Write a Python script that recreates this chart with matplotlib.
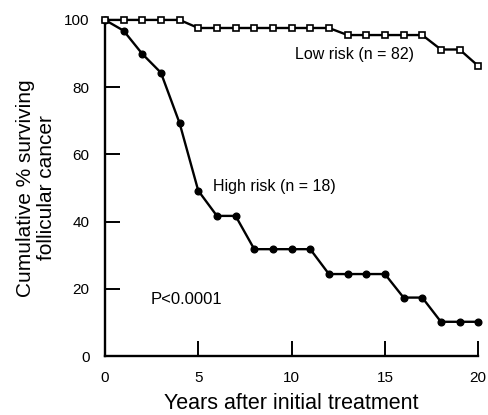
import matplotlib
matplotlib.use("Agg")
import matplotlib.pyplot as plt

plt.rcParams['font.family'] = ['Liberation Sans', 'DejaVu Sans']

# Survival curves (years after treatment vs cumulative % surviving)
years = list(range(0, 21))
low_risk = [100, 100, 100, 100, 100,
            97.6, 97.6, 97.6, 97.6, 97.6, 97.6, 97.6, 97.6,
            95.5, 95.5, 95.5, 95.5, 95.5,
            91.2, 91.2, 86.3]
high_risk = [100, 96.8, 89.9, 84.3, 69.3, 49.2, 41.7, 41.7,
             31.8, 31.8, 31.8, 31.8, 24.4, 24.4, 24.4, 24.4,
             17.4, 17.4, 10.2, 10.2, 10.2]

x_ticks = [0, 5, 10, 15, 20]
y_ticks = [0, 20, 40, 60, 80, 100]

fig = plt.figure(figsize=(4.88, 4.15), dpi=100)
ax = fig.add_axes([0.215, 0.142, 0.765, 0.81])

ax.plot(years, high_risk, color='black', lw=1.7, marker='o', ms=4.8,
        mfc='black', mec='black', clip_on=False, zorder=3)
ax.plot(years, low_risk, color='black', lw=1.7, marker='s', ms=4.4,
        mfc='white', mec='black', mew=1.2, clip_on=False, zorder=4)

ax.set_xlim(0, 20)
ax.set_ylim(0, 100)
ax.set_xticks(x_ticks)
ax.set_yticks(y_ticks)
ax.spines['top'].set_visible(False)
ax.spines['right'].set_visible(False)
for s in ('left', 'bottom'):
    ax.spines[s].set_linewidth(1.7)
ax.tick_params(direction='in', length=11, width=1.4, labelsize=11)
ax.tick_params(axis='y', pad=11)
ax.tick_params(axis='x', pad=10.5)

ax.set_xlabel('Years after initial treatment', fontsize=15.5, labelpad=6)
ax.set_ylabel('Cumulative % surviving\nfollicular cancer', fontsize=15,
              labelpad=6, linespacing=1.1)

ax.text(10.2, 89.6, 'Low risk (n = 82)', fontsize=11.5, va='center')
ax.text(5.8, 50.3, 'High risk (n = 18)', fontsize=11.5, va='center')
ax.text(2.45, 16.7, 'P<0.0001', fontsize=12, va='center')

fig.savefig('out.png', dpi=100, facecolor='white')
